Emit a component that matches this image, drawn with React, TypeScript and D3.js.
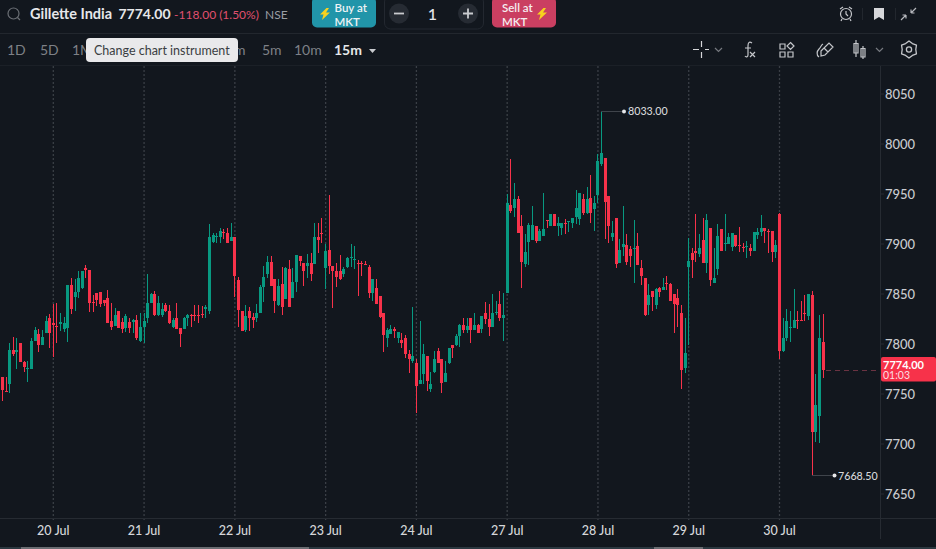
// App.tsx - Gillette India 15m candle chart
import React from 'react';
import * as d3 from 'd3';

const opens = [
  7767,7753,7760,7794,7792,7801,7782,7775,7775,7803,
  7810,7799,7811,7826,7821,7818,7820,7815,7816,7859,
  7847,7852,7856,7876,7874,7842,7851,7852,7844,7846,
  7823,7818,7833,7822,7816,7822,7822,7824,7803,7817,
  7826,7841,7850,7829,7829,7839,7833,7817,7826,7816,
  7815,7826,7829,7829,7829,7830,7835,7833,7902,7907,
  7907,7912,7911,7903,7907,7864,7833,7814,7833,7827,
  7826,7831,7857,7870,7882,7865,7839,7860,7845,7875,
  7846,7862,7888,7881,7878,7881,7880,7907,7911,7876,
  7894,7878,7873,7873,7870,7877,7886,7884,7881,7881,
  7880,7877,7851,7856,7848,7831,7806,7810,7815,7806,
  7804,7806,7790,7783,7781,7760,7770,7788,7755,7772,
  7793,7785,7762,7781,7799,7799,7808,7819,7814,7826,
  7814,7819,7815,7831,7825,7817,7831,7840,7826,7851,
  7939,7936,7945,7918,7880,7902,7904,7918,7903,7908,
  7924,7918,7930,7918,7916,7921,7922,7921,7927,7925,
  7945,7931,7946,7935,7949,7980,7986,7948,7907,7926,
  7881,7897,7899,7895,7895,7898,7876,7866,7839,7853,
  7839,7856,7854,7861,7860,7850,7846,7831,7776,7877,
  7891,7893,7890,7904,7881,7916,7861,7875,7915,7900,
  7900,7897,7909,7899,7897,7897,7896,7893,7909,7912,
  7916,7913,7913,7892,7930,7793,7806,7816,7816,7824,
  7824,7831,7828,7849,7712,7728,7802,
];
const highs = [
  7767,7767,7801,7807,7806,7801,7783,7783,7806,7817,
  7815,7814,7828,7830,7840,7841,7831,7827,7859,7866,
  7865,7873,7873,7879,7874,7849,7851,7852,7844,7854,
  7841,7836,7833,7826,7830,7826,7825,7829,7831,7831,
  7870,7851,7853,7848,7841,7841,7839,7826,7841,7816,
  7827,7830,7830,7839,7839,7838,7839,7920,7911,7911,
  7916,7915,7916,7921,7907,7867,7833,7839,7837,7831,
  7840,7859,7878,7888,7888,7865,7865,7877,7877,7884,
  7876,7889,7888,7881,7890,7891,7921,7921,7926,7900,
  7949,7878,7881,7889,7877,7887,7900,7898,7884,7883,
  7883,7879,7865,7865,7848,7831,7816,7819,7817,7812,
  7811,7809,7794,7837,7785,7823,7800,7788,7772,7793,
  7796,7785,7783,7796,7799,7810,7820,7826,7826,7826,
  7831,7820,7828,7842,7840,7850,7843,7853,7851,7950,
  7985,7961,7948,7929,7910,7921,7938,7918,7915,7951,
  7924,7930,7930,7927,7921,7925,7923,7926,7954,7951,
  7950,7957,7969,7948,7990,8033,7986,7948,7923,7926,
  7905,7938,7910,7898,7924,7911,7884,7866,7860,7853,
  7856,7857,7866,7868,7861,7850,7855,7839,7826,7906,
  7896,7930,7910,7926,7930,7916,7896,7920,7915,7930,
  7911,7911,7909,7917,7901,7903,7900,7912,7916,7929,
  7916,7915,7913,7904,7931,7826,7835,7833,7855,7833,
  7843,7849,7850,7853,7770,7829,7830,
];
const lows = [
  7743,7752,7751,7788,7775,7782,7772,7762,7775,7803,
  7792,7799,7811,7796,7787,7801,7813,7812,7802,7830,
  7833,7846,7855,7866,7832,7832,7838,7837,7838,7821,
  7814,7818,7816,7811,7812,7811,7811,7804,7802,7801,
  7821,7841,7828,7828,7827,7832,7820,7816,7815,7797,
  7815,7818,7817,7823,7821,7826,7826,7830,7901,7901,
  7901,7905,7901,7903,7847,7817,7813,7812,7813,7816,
  7822,7831,7842,7866,7858,7831,7838,7829,7845,7837,
  7846,7852,7878,7858,7866,7863,7880,7891,7901,7855,
  7870,7836,7857,7864,7867,7876,7877,7875,7848,7868,
  7879,7846,7843,7840,7826,7792,7797,7810,7806,7801,
  7796,7786,7771,7781,7731,7760,7760,7753,7752,7771,
  7781,7751,7762,7780,7786,7798,7797,7811,7811,7801,
  7814,7811,7811,7820,7808,7817,7829,7823,7803,7851,
  7931,7927,7911,7856,7877,7879,7904,7901,7903,7908,
  7916,7918,7918,7908,7909,7910,7912,7916,7920,7919,
  7929,7930,7921,7913,7941,7978,7905,7901,7903,7876,
  7881,7888,7879,7877,7861,7879,7859,7828,7829,7833,
  7835,7847,7854,7854,7843,7811,7817,7755,7771,7799,
  7866,7882,7887,7881,7871,7858,7861,7869,7893,7893,
  7900,7893,7897,7892,7892,7886,7888,7893,7905,7908,
  7901,7891,7882,7886,7785,7792,7803,7802,7816,7815,
  7823,7823,7824,7668.5,7702,7701,7766,
];
const closes = [
  7754,7752,7794,7790,7794,7782,7777,7776,7803,7814,
  7799,7807,7823,7811,7819,7817,7822,7821,7859,7835,
  7852,7866,7873,7874,7841,7841,7844,7840,7841,7821,
  7817,7829,7816,7815,7828,7816,7824,7806,7817,7823,
  7841,7850,7829,7841,7835,7833,7821,7824,7815,7810,
  7826,7829,7828,7828,7828,7829,7837,7907,7909,7908,
  7913,7911,7901,7907,7868,7834,7813,7828,7826,7824,
  7831,7857,7867,7882,7858,7843,7858,7837,7876,7837,
  7862,7889,7883,7873,7881,7870,7907,7904,7910,7893,
  7878,7873,7867,7865,7875,7886,7887,7885,7880,7880,
  7879,7851,7865,7840,7827,7809,7814,7815,7813,7812,
  7801,7790,7785,7788,7758,7764,7790,7763,7760,7785,
  7781,7761,7771,7796,7796,7808,7819,7814,7818,7814,
  7819,7811,7828,7825,7817,7831,7832,7826,7829,7941,
  7933,7945,7911,7882,7892,7919,7919,7903,7913,7915,
  7923,7930,7918,7921,7921,7920,7923,7926,7936,7951,
  7931,7945,7931,7941,7983,7991,7942,7918,7911,7880,
  7894,7900,7882,7888,7896,7879,7868,7829,7849,7847,
  7855,7852,7857,7860,7843,7840,7839,7774,7791,7883,
  7884,7891,7896,7881,7924,7864,7866,7908,7893,7901,
  7907,7911,7898,7898,7896,7898,7893,7912,7912,7916,
  7913,7912,7892,7899,7793,7806,7823,7817,7824,7823,
  7823,7830,7850,7712,7739,7806,7774,
];
const isUp = [
  0,0,1,0,1,0,0,1,1,1,
  0,1,1,0,0,0,1,1,1,0,
  1,1,1,0,0,0,0,0,0,0,
  0,1,0,0,1,0,1,0,1,1,
  1,1,0,1,1,0,0,1,0,0,
  1,1,0,0,0,0,1,1,1,1,
  1,0,0,1,0,0,0,1,0,0,
  1,1,1,1,0,0,1,0,1,0,
  1,1,0,0,1,0,1,0,0,1,
  0,0,0,0,1,1,1,1,0,0,
  0,0,1,0,0,0,1,1,0,1,
  0,0,0,1,0,1,1,0,1,1,
  0,0,1,1,0,1,1,0,1,0,
  1,0,1,0,0,1,1,0,1,1,
  0,1,0,0,1,1,1,0,1,1,
  0,1,0,1,1,0,1,1,1,1,
  0,1,0,1,1,1,0,0,1,0,
  1,1,0,0,1,0,0,0,1,0,
  1,0,1,0,0,0,0,0,1,1,
  0,0,1,0,1,0,1,1,0,1,
  1,1,0,0,0,1,0,1,1,1,
  0,0,0,1,0,1,1,1,1,0,
  0,0,1,0,1,1,0,
];

const dayLabels = ['20 Jul', '21 Jul', '22 Jul', '23 Jul', '24 Jul', '27 Jul', '28 Jul', '29 Jul', '30 Jul'];
const dayStartIndex = [14, 39, 64, 89, 114, 139, 164, 189, 214];
const priceTicks = [7650, 7700, 7750, 7800, 7850, 7900, 7950, 8000, 8050];
const lastPrice = 7774;
const highPoint = { index: 165, price: 8033 };
const lowPoint = { index: 223, price: 7668.5 };

const leftRanges = [{ t: '1D', x: 7 }, { t: '5D', x: 40 }, { t: '1M', x: 72 }];
const rightRanges = [{ t: '3m', x: 226 }, { t: '5m', x: 262 }, { t: '10m', x: 294 }];

const BG = '#12171e';
const UP = '#089981';
const DOWN = '#f7324a';
const FONT = 'Lato, sans-serif';

const Bolt = ({ x, y }: { x: number; y: number }) => (
  <path transform={`translate(${x},${y})`} d="M6.5 0 L0 6.5 L3.5 6.5 L2 12 L10 4.5 L6 4.5 L9 0 Z" fill="#f7d21e" />
);

// gear outline for the settings button
const gearPath = d3.lineRadial<number>()
  .angle((_, i) => (i * Math.PI) / 6)
  .radius((_, i) => (i % 2 === 0 ? 8.6 : 6.8))
  .curve(d3.curveLinearClosed)(d3.range(12));

export default function App() {
  const xScale = d3.scaleLinear().domain([14, 214]).range([53.3, 779.5]);
  const yScale = d3.scaleLinear().domain([7650, 8050]).range([494, 94]);
  const px = (i: number) => Math.round(xScale(i) - 0.5);

  const lastY = yScale(lastPrice);

  return (
    <svg width={936} height={549} style={{ position: 'fixed', left: 0, top: 0, background: BG, fontFamily: FONT }}>
      {/* header */}
      <circle cx={13.5} cy={13.5} r={5.5} fill="none" stroke="#6b6f75" strokeWidth={1.2} />
      <line x1={17.5} y1={17.5} x2={20} y2={20} stroke="#6b6f75" strokeWidth={1.2} />
      <text x={30} y={19} fontSize={14.5} fontWeight={700} fill="#e6e7ea">Gillette India</text>
      <text x={118.5} y={19} fontSize={14} fontWeight={700} fill="#e6e7ea">7774.00</text>
      <text x={174} y={19} fontSize={12} fill="#e0506e">-118.00 (1.50%)</text>
      <text x={265} y={19} fontSize={12} fill="#9a9da3">NSE</text>

      <rect x={312} y={-3} width={64} height={30.5} rx={5} fill="#2195a9" />
      <Bolt x={320} y={8} />
      <text x={334.5} y={11.5} fontSize={11.5} fontWeight={600} fill="#eef3f5">Buy at</text>
      <text x={334.5} y={25.5} fontSize={11.5} fontWeight={600} fill="#eef3f5">MKT</text>

      <rect x={384.5} y={-4} width={99} height={33} rx={6} fill="none" stroke="#232830" />
      <circle cx={399} cy={13.5} r={10} fill="#262b33" />
      <line x1={394} y1={13.5} x2={404} y2={13.5} stroke="#c9cbcf" strokeWidth={1.8} />
      <text x={432.5} y={20} fontSize={16} fontWeight={500} textAnchor="middle" fill="#e6e7ea">1</text>
      <circle cx={468} cy={13.5} r={10} fill="#262b33" />
      <path d="M463 13.5 H473 M468 8.5 V18.5" stroke="#c9cbcf" strokeWidth={1.8} />

      <rect x={492} y={-3} width={64} height={30.5} rx={5} fill="#ca3f61" />
      <text x={502} y={11.5} fontSize={11.5} fontWeight={600} fill="#f5eef0">Sell at</text>
      <text x={502} y={25.5} fontSize={11.5} fontWeight={600} fill="#f5eef0">MKT</text>
      <Bolt x={537} y={8} />

      {/* alarm, bookmark, collapse */}
      <g fill="none" stroke="#c4c6ca" strokeWidth={1.2}>
        <circle cx={846} cy={14} r={5.5} />
        <path d="M846 11 V14 L848 16 M840 9 L843 7 M852 9 L849 7 M842 19 L841 21 M850 19 L851 21" />
        <path d="M911 13 L916 8 M911 13 V9.5 M911 13 H914.5 M906 15 L901 20 M906 15 V18.5 M906 15 H902.5" stroke="#b6b8bd" />
      </g>
      <path d="M874 8 H884 V20 L879 17 L874 20 Z" fill="#d6d7da" />
      <line x1={862.5} y1={8} x2={862.5} y2={20} stroke="#22272e" />
      <line x1={895.5} y1={8} x2={895.5} y2={20} stroke="#22272e" />
      <line x1={0} y1={33.5} x2={936} y2={33.5} stroke="#22272e" />

      {/* toolbar */}
      {leftRanges.concat(rightRanges).map(r => (
        <text key={r.t} x={r.x} y={55} fontSize={14} fill="#7e8187">{r.t}</text>
      ))}
      <text x={334} y={55} fontSize={14} fontWeight={700} fill="#e6e7ea">15m</text>
      <path d="M369 49 H376 L372.5 53 Z" fill="#c9cbcf" />

      <g fill="none" stroke="#c4c6ca" strokeWidth={1.2}>
        <path d="M693 49.5 H699 M705 49.5 H709 M701.5 41 V47 M701.5 52 V58" stroke="#d6d7da" />
        <path d="M715 48 L718.5 51.5 L722 48" stroke="#777a80" />
        <path d="M752 43 C749 41 748 43 748 46 V55 C748 57 746 57.5 745 56 M745 48 H751 M750 52 L755 57 M755 52 L750 57" />
        <path d="M780 44 H785 V49 H780 Z M780 52 H785 V57 H780 Z M788 52 H793 V57 H788 Z M790.5 42.5 L794 46 L790.5 49.5 L787 46 Z" />
        <path d="M821 51 L829 43 L833 47 L825 55 L821 56 Z M824 48 L828 52 M819 57 C816 55 817 51 819 49 C821 47 821 45 823 44" />
        <path d="M856 40 V57 M854 43.5 H858 V53 H854 Z M863 46 V59 M861 48.5 H865 V57 H861 Z" />
        <path d="M876 48 L879.5 51.5 L883 48" stroke="#777a80" />
        <path d={gearPath ?? ''} transform="translate(909,49.5)" strokeWidth={1.3} strokeLinejoin="round" />
        <circle cx={909} cy={49.5} r={2.6} strokeWidth={1.3} />
      </g>
      <line x1={0} y1={65.5} x2={936} y2={65.5} stroke="#1b2027" />

      {/* day separators */}
      {dayStartIndex.map(i => (
        <line key={i} x1={xScale(i)} x2={xScale(i)} y1={66} y2={520} stroke="#3a3f46" strokeWidth={1.3} strokeDasharray="2 2" />
      ))}

      {/* candles */}
      {opens.map((o, i) => {
        const c = closes[i];
        const color = isUp[i] ? UP : DOWN;
        const top = Math.round(yScale(Math.max(o, c)));
        const bottom = Math.round(yScale(Math.min(o, c)));
        return (
          <g key={i} fill={color}>
            <rect x={px(i)} width={1} y={yScale(highs[i])} height={yScale(lows[i]) - yScale(highs[i])} />
            <rect x={px(i) - 1} width={3} y={top} height={Math.max(bottom - top, 1)} />
          </g>
        );
      })}

      {/* high / low markers */}
      <line x1={px(highPoint.index)} x2={622} y1={yScale(highPoint.price) + 0.5} y2={yScale(highPoint.price) + 0.5} stroke="#3f444b" />
      <circle cx={624} cy={yScale(highPoint.price) + 0.5} r={2} fill="#e6e7ea" />
      <text x={628} y={yScale(highPoint.price) + 4} fontSize={10.7} fontWeight={500} fill="#d6d7da">8033.00</text>
      <line x1={px(lowPoint.index)} x2={832} y1={yScale(lowPoint.price)} y2={yScale(lowPoint.price)} stroke="#3f444b" />
      <circle cx={834.5} cy={yScale(lowPoint.price)} r={2} fill="#e6e7ea" />
      <text x={838} y={yScale(lowPoint.price) + 4} fontSize={10.7} fontWeight={500} fill="#d6d7da">7668.50</text>

      {/* last price line */}
      <line x1={px(226) + 3} x2={880} y1={lastY + 0.5} y2={lastY + 0.5} stroke="#6a3342" strokeDasharray="5 4" />

      {/* price axis */}
      <line x1={880.5} x2={880.5} y1={66} y2={539} stroke="#262b32" />
      {priceTicks.map(p => (
        <g key={p}>
          <line x1={880} x2={884} y1={yScale(p)} y2={yScale(p)} stroke="#262b32" />
          <text x={885} y={yScale(p) + 4.5} fontSize={13} fontWeight={500} fill="#c9cbcf">{p}</text>
        </g>
      ))}
      <rect x={881} y={357} width={55} height={24.5} rx={2} fill={DOWN} />
      <text x={883} y={368.5} fontSize={11} fontWeight={700} fill="#fff">{lastPrice.toFixed(2)}</text>
      <text x={883} y={379} fontSize={10.5} fill="#fbdde1">01:03</text>

      {/* time axis */}
      <line x1={0} x2={936} y1={518.5} y2={518.5} stroke="#262b32" />
      {dayStartIndex.map((i, k) => (
        <text key={i} x={xScale(i)} y={535} textAnchor="middle" fontSize={12.5} fontWeight={500} fill="#d6d7da">{dayLabels[k]}</text>
      ))}

      {/* window scrollbar strip */}
      <rect x={0} y={547} width={936} height={2} fill="#2c3840" />
      <rect x={21} y={547} width={288} height={2} fill="#6a6d72" />
      <rect x={654} y={547} width={49} height={2} fill="#6a6d72" />

      {/* tooltip */}
      <rect x={86} y={38} width={152} height={24} rx={4} fill="#e9e9eb" />
      <text x={94} y={55} fontSize={12.5} fill="#3a3d42">Change chart instrument</text>
    </svg>
  );
}
